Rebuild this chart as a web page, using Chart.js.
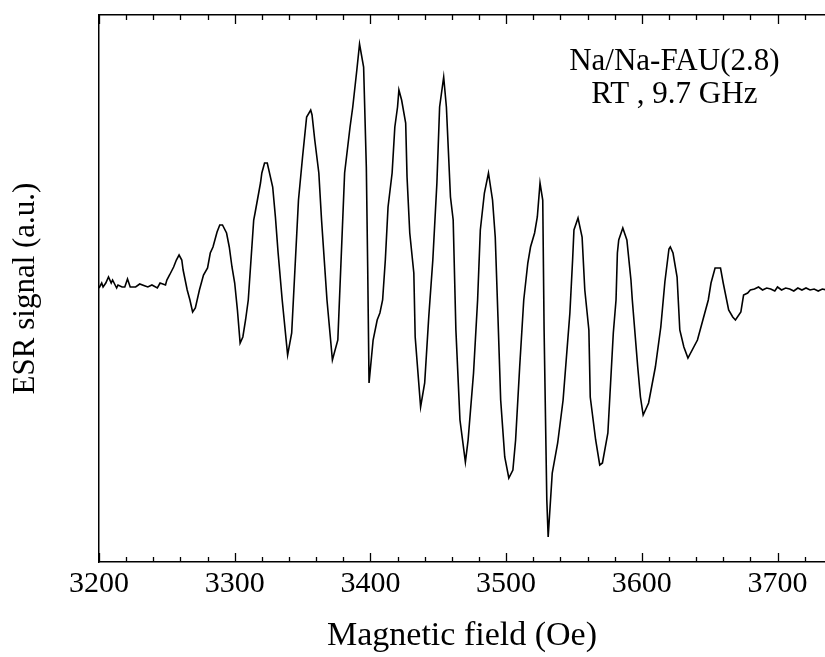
<!DOCTYPE html>
<html>
<head>
<meta charset="utf-8">
<script src="https://cdn.jsdelivr.net/npm/chart.js@4.4.0/dist/chart.umd.min.js"></script>
<style>
    html, body { margin: 0; padding: 0; background: #fff; }
    canvas { display: block; }
</style>
</head>
<body>
<canvas id="esrChart" width="825" height="657"></canvas>
<script>
// ESR spectrum: field (Oe) and signal (a.u.)
const field = [
    3200, 3202, 3203, 3205, 3207, 3209, 3210, 3213, 3214, 3217, 3219, 3221, 3223, 3227, 3230,
    3234, 3236, 3239, 3243, 3245, 3249, 3250, 3252, 3255, 3257, 3259, 3261, 3262, 3265, 3267,
    3269, 3271, 3274, 3277, 3280, 3282, 3284, 3287, 3289, 3291, 3294, 3296, 3298, 3300, 3302,
    3304, 3306, 3308, 3310, 3314, 3315, 3319, 3320, 3322, 3324, 3328, 3330, 3332, 3335, 3339,
    3342, 3347, 3350, 3353, 3356, 3357, 3359, 3362, 3364, 3368, 3372, 3376, 3381, 3385, 3387,
    3390, 3392, 3395, 3397, 3398, 3399, 3402, 3405, 3407, 3409, 3411, 3413, 3416, 3418, 3420,
    3421, 3423, 3426, 3427, 3429, 3432, 3433, 3437, 3440, 3443, 3446, 3449, 3451, 3454, 3456,
    3459, 3461, 3463, 3466, 3470, 3472, 3476, 3479, 3481, 3484, 3487, 3490, 3492, 3494, 3496,
    3499, 3502, 3505, 3507, 3510, 3513, 3516, 3518, 3521, 3523, 3525, 3527, 3528, 3530, 3531,
    3534, 3538, 3542, 3547, 3549, 3550, 3553, 3556, 3558, 3561, 3562, 3566, 3569, 3571, 3575,
    3579, 3581, 3582, 3583, 3586, 3589, 3592, 3593, 3597, 3599, 3601, 3605, 3610, 3614, 3617,
    3620, 3621, 3623, 3626, 3628, 3631, 3634, 3641, 3645, 3649, 3651, 3654, 3658, 3660, 3664,
    3667, 3669, 3673, 3675, 3678, 3680, 3683, 3686, 3689, 3692, 3695, 3698, 3700, 3703, 3706,
    3709, 3712, 3715, 3718, 3721, 3724, 3727, 3730, 3733, 3736
];
const signal = [
    -1, 4, 0, 4, 10, 4, 7, -1, 2, 0, 0, 8, 0, 0, 3,
    1, 0, 2, -1, 4, 2, 7, 12, 20, 27, 32, 27, 17, -3, -13,
    -25, -21, -3, 12, 19, 34, 40, 55, 62, 62, 54, 40, 20, 4, -23,
    -56, -50, -33, -13, 67, 74, 104, 114, 124, 124, 100, 70, 34, -13, -68,
    -46, 87, 130, 170, 177, 172, 147, 114, 67, -13, -73, -53, 114, 160, 180,
    217, 243, 220, 120, 20, -96, -53, -33, -26, -13, 27, 80, 114, 160, 180,
    197, 187, 164, 110, 54, 14, -50, -120, -96, -30, 27, 104, 180, 210, 180,
    90, 67, -43, -133, -175, -153, -86, -13, 57, 94, 114, 87, 50, -30, -113,
    -170, -191, -183, -153, -80, -13, 24, 40, 54, 70, 104, 87, -43, -213, -250,
    -186, -156, -113, -26, 27, 57, 69, 50, -3, -43, -110, -153, -178, -176, -146,
    -46, -13, 34, 47, 59, 47, 7, -13, -80, -110, -128, -116, -80, -40, 5,
    38, 40, 34, 10, -43, -60, -71, -53, -33, -13, 4, 19, 19, 4, -23,
    -30, -33, -25, -8, -6, -3, -2, 0, -3, -1, -2, -4, 0, -3, -1,
    -2, -4, -1, -3, -1, -3, -2, -4, -2, -3
];
const xTicks = [3200, 3300, 3400, 3500, 3600, 3700];
const sampleText = ['Na/Na-FAU(2.8)', 'RT , 9.7 GHz'];

const xMin = 3200;
const xMax = 3735;
const minorStep = 20;
const serif = 'Liberation Serif';

// inward tick marks on the bottom and top axes
const inwardTicks = {
    id: 'inwardTicks',
    afterDraw(chart) {
        const ctx = chart.ctx;
        const x = chart.scales.x;
        const area = chart.chartArea;
        ctx.save();
        ctx.strokeStyle = '#000';
        ctx.lineWidth = 1.3;
        ctx.beginPath();
        for (let v = xMin; v <= xMax; v += minorStep) {
            const px = Math.round(x.getPixelForValue(v)) + 0.5;
            const len = xTicks.includes(v) ? 9 : 5;
            ctx.moveTo(px, area.bottom);
            ctx.lineTo(px, area.bottom - len);
            ctx.moveTo(px, area.top);
            ctx.lineTo(px, area.top + len);
        }
        ctx.stroke();
        ctx.restore();
    }
};

// sample label in the upper right corner
const sampleLabel = {
    id: 'sampleLabel',
    afterDraw(chart) {
        const ctx = chart.ctx;
        const cx = chart.scales.x.getPixelForValue(3624);
        ctx.save();
        ctx.fillStyle = '#000';
        ctx.font = '31px "' + serif + '"';
        ctx.textAlign = 'center';
        ctx.textBaseline = 'alphabetic';
        ctx.fillText(sampleText[0], cx, 70);
        ctx.fillText(sampleText[1], cx, 103);
        ctx.restore();
    }
};

function createChart() {
    const ctx = document.getElementById('esrChart').getContext('2d');
    new Chart(ctx, {
        type: 'line',
        data: {
            datasets: [{
                data: field.map((f, i) => ({ x: f, y: signal[i] })),
                borderColor: '#000',
                borderWidth: 1.6,
                pointRadius: 0,
                tension: 0,
                fill: false
            }]
        },
        options: {
            responsive: false,
            animation: false,
            layout: { padding: 0 },
            plugins: {
                legend: { display: false },
                tooltip: { enabled: false }
            },
            scales: {
                x: {
                    type: 'linear',
                    position: 'bottom',
                    min: xMin,
                    max: xMax,
                    afterBuildTicks: s => { s.ticks = xTicks.map(v => ({ value: v })); },
                    afterFit: s => { s.height = 95; },
                    grid: { display: false, drawTicks: false },
                    border: { display: true, color: '#000', width: 1.5 },
                    ticks: {
                        color: '#000',
                        padding: 4,
                        maxRotation: 0,
                        autoSkip: false,
                        font: { family: serif, size: 30 },
                        callback: v => String(v)
                    },
                    title: {
                        display: true,
                        text: 'Magnetic field (Oe)',
                        color: '#000',
                        font: { family: serif, size: 34 },
                        padding: { top: 0, bottom: 1 }
                    }
                },
                xTop: {
                    type: 'linear',
                    position: 'top',
                    min: xMin,
                    max: xMax,
                    afterFit: s => { s.height = 15; },
                    grid: { display: false, drawTicks: false },
                    border: { display: true, color: '#000', width: 1.5 },
                    ticks: { display: false }
                },
                y: {
                    min: -275,
                    max: 272,
                    afterFit: s => { s.width = 99; },
                    grid: { display: false, drawTicks: false },
                    border: { display: true, color: '#000', width: 1.5 },
                    ticks: { display: false },
                    title: {
                        display: true,
                        text: 'ESR signal (a.u.)',
                        color: '#000',
                        font: { family: serif, size: 31 },
                        padding: { top: 7, bottom: 0 }
                    }
                }
            }
        },
        plugins: [inwardTicks, sampleLabel]
    });
}

window.addEventListener('load', createChart);
</script>
</body>
</html>
